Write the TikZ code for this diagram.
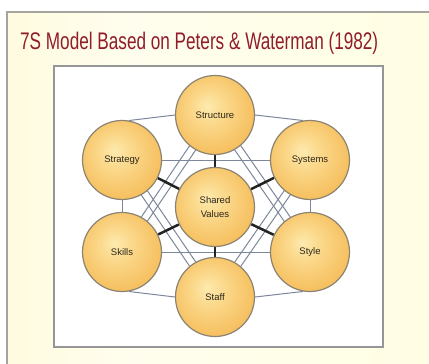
\documentclass[tikz,border=0pt]{standalone}
\usepackage{fontspec}
\setmainfont{Liberation Sans}
\usetikzlibrary{calc}
\definecolor{titlered}{RGB}{145,28,42}
\definecolor{bgA}{RGB}{255,246,200}
\definecolor{bgB}{RGB}{255,254,238}
\definecolor{bgC}{RGB}{255,253,220}
\definecolor{framecol}{RGB}{165,165,160}
\definecolor{boxcol}{RGB}{150,150,150}
\definecolor{gA}{RGB}{253,234,175}
\definecolor{gB}{RGB}{251,217,140}
\definecolor{gC}{RGB}{246,192,96}
\definecolor{ballborder}{RGB}{140,132,115}
\definecolor{labeltext}{RGB}{45,38,25}
\definecolor{linkcol}{RGB}{125,135,155}
\definecolor{spokecol}{RGB}{35,35,35}
\pgfdeclarehorizontalshading{bgshade}{100bp}{color(0bp)=(bgA); color(40bp)=(bgB); color(100bp)=(bgC)}
\pgfdeclareradialshading{goldball}{\pgfpoint{-5bp}{6bp}}{color(0bp)=(gA); color(10bp)=(gB); color(27bp)=(gC); color(50bp)=(gC)}
\pgfdeclarelayer{back}
\pgfdeclarelayer{mid}
\pgfsetlayers{back,mid,main}
\newcommand\pairlink[2]{%
  \draw[link] ($(#1)!3.7pt!90:(#2)$) -- ($(#2)!3.7pt!-90:(#1)$);
  \draw[link] ($(#1)!3.7pt!-90:(#2)$) -- ($(#2)!3.7pt!90:(#1)$);}
\begin{document}
\begin{tikzpicture}[x=1pt,y=-1pt,
  sball/.style={circle, draw=ballborder, line width=1.2pt, minimum size=79pt,
    inner sep=0pt, shading=goldball, align=center,
    font=\fontsize{9.5}{14}\selectfont, text=labeltext},
  link/.style={draw=linkcol, line width=1pt},
  spoke/.style={draw=spokecol, line width=2.5pt},
  framebox/.style={draw=framecol, line width=1.4pt},
  innerbox/.style={draw=boxcol, line width=1.8pt, fill=white}]
\useasboundingbox (0,0) rectangle (429,364);
\begin{pgfonlayer}{back}
  \fill[white] (0,0) rectangle (429,364);
  \shade[shading=bgshade] (7,12) rectangle (429,364);
  \draw[framebox] (7,364) -- (7,12) -- (429,12);
  \draw[innerbox] (54,66) rectangle (383,347);
\end{pgfonlayer}
\node[anchor=base west, text=titlered, font=\fontsize{24}{28}\selectfont, inner sep=0pt]
  (title) at (20,49) {\scalebox{0.715}[1]{7S Model Based on Peters \& Waterman (1982)}};
\node[sball] (structure) at (215,115) {Structure};
\node[sball] (strategy) at (122,160) {Strategy};
\node[sball] (systems) at (310,160) {Systems};
\node[sball] (shared) at (215,207) {Shared\\Values};
\node[sball] (skills) at (122,252) {Skills};
\node[sball] (style) at (310,252) {Style};
\node[sball] (staff) at (215,297) {Staff};
\begin{pgfonlayer}{mid}
  \draw[link] (structure.west) -- (strategy.80);
  \draw[link] (structure.east) -- (systems.100);
  \draw[link] (strategy) -- (skills);
  \draw[link] (systems) -- (style);
  \draw[link] (skills.280) -- (staff.west);
  \draw[link] (style.260) -- (staff.east);
  \draw[link] (strategy) -- (systems);
  \draw[link] (skills) -- (style);
  \pairlink{structure}{skills}
  \pairlink{structure}{style}
  \pairlink{strategy}{staff}
  \pairlink{systems}{staff}
  \draw[spoke] (shared) -- (structure);
  \draw[spoke] (shared) -- (strategy);
  \draw[spoke] (shared) -- (systems);
  \draw[spoke] (shared) -- (skills);
  \draw[spoke] (shared) -- (style);
  \draw[spoke] (shared) -- (staff);
\end{pgfonlayer}
\end{tikzpicture}
\end{document}
